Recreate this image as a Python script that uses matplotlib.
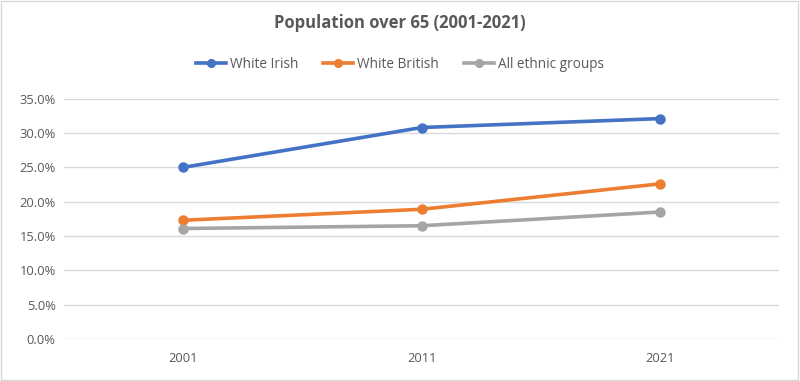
import matplotlib
matplotlib.use("Agg")
import matplotlib.pyplot as plt
from matplotlib.ticker import FuncFormatter
from matplotlib.patches import Rectangle

# datos
anios = ["2001", "2011", "2021"]
white_irish = [25.0, 30.8, 32.1]
white_british = [17.3, 18.9, 22.6]
all_groups = [16.1, 16.5, 18.5]

series = [
    ("White Irish", white_irish, "#4472C4"),
    ("White British", white_british, "#ED7D31"),
    ("All ethnic groups", all_groups, "#A5A5A5"),
]

plt.rcParams['font.family'] = ['Open Sans', 'DejaVu Sans']

fig = plt.figure(figsize=(8, 3.81), dpi=100)
ax = fig.add_axes([0.08, 0.11, 0.894, 0.631])

x = range(len(anios))
for nombre, valores, color in series:
    ax.plot(x, valores, color=color, linewidth=2.6, marker='o', markersize=6.5, label=nombre)

ax.set_xlim(-0.5, 2.5)
ax.set_ylim(0, 35)
ax.set_yticks([0, 5, 10, 15, 20, 25, 30, 35])
ax.yaxis.set_major_formatter(FuncFormatter(lambda v, p: f"{v:.1f}%"))
ax.set_xticks(list(x))
ax.set_xticklabels(anios)
ax.tick_params(axis='both', length=0, labelsize=9.3, labelcolor='#595959')
ax.tick_params(axis='x', pad=9)
ax.tick_params(axis='y', pad=6)
ax.grid(axis='y', color='#D9D9D9', linewidth=1)
ax.set_axisbelow(True)
for s in ax.spines.values():
    s.set_visible(False)

fig.text(0.5, 0.94, "Population over 65 (2001-2021)", ha='center', va='center',
         fontsize=12, fontweight='bold', color='#595959')

fig.legend(loc='center', bbox_to_anchor=(0.5, 0.832), ncol=3, frameon=False,
           fontsize=9.8, labelcolor='#595959', handlelength=2.2, columnspacing=1.8,
           handletextpad=0.3, markerscale=0.85)

# borde del grafico
fig.patches.append(Rectangle((0.001, 0.002), 0.997, 0.995, transform=fig.transFigure,
                             fill=False, edgecolor='#D9D9D9', linewidth=1))

fig.savefig("out.png", dpi=100)
